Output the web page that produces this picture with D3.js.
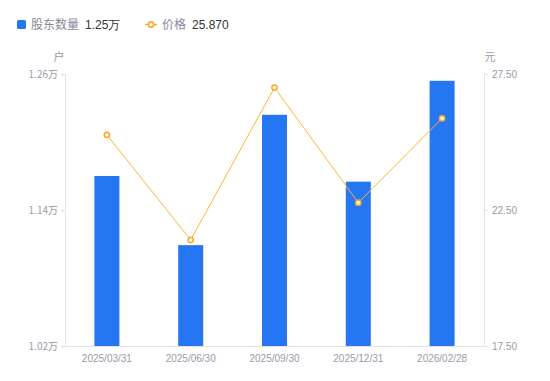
<!DOCTYPE html>
<html><head><meta charset="utf-8">
<script src="https://cdn.jsdelivr.net/npm/d3@7"></script>
<style>body{margin:0;background:#fff}svg{display:block;font-family:"Noto Sans CJK SC","Noto Sans",sans-serif}</style>
</head><body><svg id="c" width="550" height="381"></svg>
<script>
const categories = ["2025/03/31","2025/06/30","2025/09/30","2025/12/31","2026/02/28"];
const holders = [1.17, 1.109, 1.224, 1.165, 1.254]; // 万户
const prices = [25.26, 21.40, 27.00, 22.77, 25.87];
const leftTicks = [1.02, 1.14, 1.26];
const rightTicks = [17.5, 22.5, 27.5];

const svg = d3.select("#c");
const m = {l:65, r:484, t:74, b:346};
const x = d3.scaleBand().domain(categories).range([m.l, m.r]);
const yL = d3.scaleLinear().domain([1.02,1.26]).range([m.b, m.t]);
const yR = d3.scaleLinear().domain([17.5,27.5]).range([m.b, m.t]);
const gray = "#9a9aa8", axisC = "#e3e3e8";

// axes
const gl = svg.append("g").attr("transform",`translate(${m.l},0)`)
  .call(d3.axisLeft(yL).tickValues(leftTicks).tickSize(4).tickPadding(3).tickFormat(d=>d.toFixed(2)+"万"));
const gr = svg.append("g").attr("transform",`translate(${m.r},0)`)
  .call(d3.axisRight(yR).tickValues(rightTicks).tickSize(4).tickPadding(4).tickFormat(d=>d.toFixed(2)));
const gx = svg.append("g").attr("transform",`translate(0,${m.b})`)
  .call(d3.axisBottom(x).tickSize(0).tickPadding(9));
[gl,gr,gx].forEach(g=>{
  g.selectAll("path,line").attr("stroke",axisC);
  g.selectAll("text").attr("fill",gray).style("font-size","10px").style("font-family","'Liberation Sans',Arial,sans-serif");
});
gl.selectAll("text").style("font-family","'Noto Sans CJK SC',sans-serif");

svg.append("text").attr("x",59).attr("y",61).attr("text-anchor","middle").attr("fill",gray).style("font-size","11px").text("户");
svg.append("text").attr("x",490).attr("y",61).attr("text-anchor","middle").attr("fill",gray).style("font-size","11px").text("元");

// bars
const bw = 25;
svg.append("g").selectAll("rect").data(holders).join("rect")
  .attr("x",(d,i)=>x(categories[i])+x.bandwidth()/2-bw/2)
  .attr("width",bw)
  .attr("y",d=>yL(d)).attr("height",d=>m.b-yL(d))
  .attr("fill","#2576f2");

// line
const line = d3.line().x((d,i)=>x(categories[i])+x.bandwidth()/2).y(d=>yR(d));
svg.append("path").datum(prices).attr("d",line).attr("fill","none").attr("stroke","#fbb637").attr("stroke-width",1);
svg.append("g").selectAll("circle").data(prices).join("circle")
  .attr("cx",(d,i)=>x(categories[i])+x.bandwidth()/2).attr("cy",d=>yR(d)).attr("r",2.6)
  .attr("fill","#fff").attr("stroke","#fbab2c").attr("stroke-width",1.6);

// legend
const lg = svg.append("g").style("font-size","12px");
lg.append("rect").attr("x",17).attr("y",20).attr("width",9).attr("height",9).attr("rx",1.5).attr("fill","#2576f2");
lg.append("text").attr("x",31).attr("y",29).attr("fill","#888899").text("股东数量");
lg.append("text").attr("x",85).attr("y",29).attr("fill","#333").style("font-family","'Liberation Sans',Arial,sans-serif").text("1.25万");
lg.append("line").attr("x1",145).attr("x2",157).attr("y1",24.5).attr("y2",24.5).attr("stroke","#fbab2c").attr("stroke-width",1.5);
lg.append("circle").attr("cx",151).attr("cy",24.5).attr("r",2.6).attr("fill","#fff").attr("stroke","#fbab2c").attr("stroke-width",1.6);
lg.append("text").attr("x",162).attr("y",29).attr("fill","#888899").text("价格");
lg.append("text").attr("x",192).attr("y",29).attr("fill","#333").style("font-family","'Liberation Sans',Arial,sans-serif").text("25.870");
</script></body></html>
